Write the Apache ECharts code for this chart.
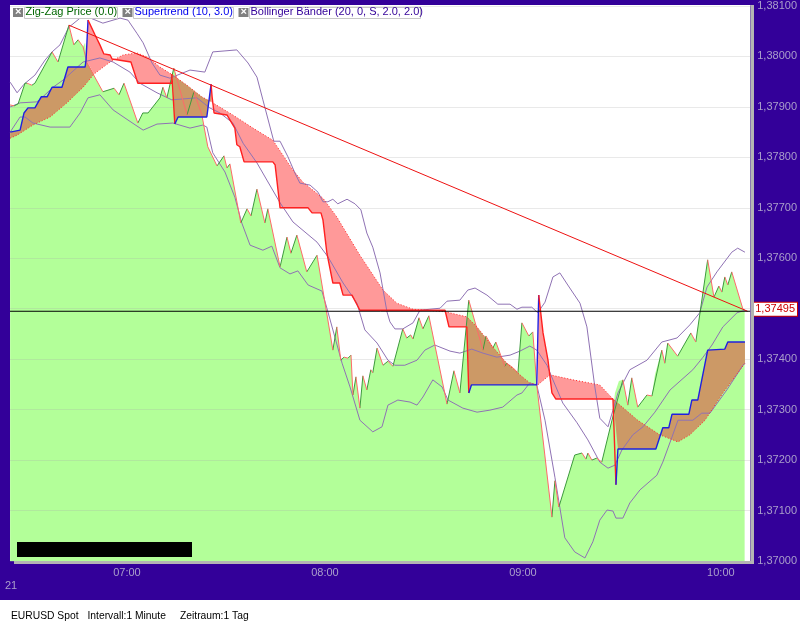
<!DOCTYPE html>
<html><head><meta charset="utf-8">
<style>html,body{margin:0;padding:0;background:#fff}#c{width:800px;height:625px}</style>
<script src="https://cdn.jsdelivr.net/npm/echarts@6/dist/echarts.min.js"></script>
</head><body><div id="c"></div>
<script>
// x values are minutes after 06:00, y values are EURUSD quotes
const timeTicks = [60, 120, 180, 240];
const priceTicks = [1.37, 1.371, 1.372, 1.373, 1.374, 1.375, 1.376, 1.377, 1.378, 1.379, 1.38, 1.381];
const lastQuote = 1.37495;

const price = [[24.6,1.37904],[25.8,1.37902],[27,1.37906],[29.1,1.37947],[29.7,1.37947],[31.2,1.37943],[32.1,1.37947],[37.3,1.38009],[39.1,1.37989],[42.4,1.38062],[43.9,1.38023],[45.2,1.38033],[46.7,1.38019],[47.9,1.37987],[52.7,1.3793],[56.1,1.37937],[57.6,1.37924],[59.1,1.37947],[63.3,1.37868],[64.8,1.37888],[66.4,1.37888],[70,1.37918],[70.9,1.37939],[72.1,1.37918],[74.2,1.37977],[78.2,1.37884],[80.3,1.3793],[82.7,1.37884],[84.5,1.37821],[87.3,1.37783],[89.4,1.37803],[90.3,1.37779],[91.2,1.37787],[94.5,1.3767],[96.4,1.37698],[97.6,1.37684],[99.4,1.37737],[101.8,1.3767],[102.7,1.37698],[106.4,1.37583],[108.5,1.37642],[109.7,1.3761],[111.5,1.37646],[114.5,1.37573],[117.6,1.37606],[120.3,1.37501],[122.4,1.37418],[123.6,1.37464],[124.8,1.37398],[125.8,1.37404],[127,1.37402],[127.9,1.37408],[128.5,1.37329],[129.4,1.37365],[130.6,1.37303],[131.5,1.37367],[132.7,1.37339],[133.9,1.37379],[134.5,1.37373],[135.8,1.37422],[137.6,1.37388],[139.1,1.37396],[140.6,1.37386],[143.6,1.3746],[144.8,1.37442],[146,1.37448],[146.7,1.3744],[148.5,1.37482],[149.7,1.3746],[151.5,1.37486],[157,1.37311],[159.1,1.37377],[160.9,1.37333],[163.6,1.37517],[167.9,1.37418],[168.8,1.37446],[170.9,1.37422],[171.8,1.37434],[174.5,1.37386],[175.1,1.37392],[177,1.37383],[178.5,1.37373],[179.7,1.37472],[181.8,1.37446],[183,1.37454],[184.2,1.37349],[188.8,1.37087],[189.7,1.37159],[190.9,1.37107],[195.7,1.3721],[197.9,1.37214],[199.1,1.37202],[199.7,1.37214],[200.9,1.372],[202.4,1.37204],[203.9,1.37196],[207,1.37279],[210.3,1.37359],[211.8,1.37309],[213,1.37363],[214.8,1.37305],[217.6,1.37329],[219.1,1.37327],[222.1,1.37418],[223,1.37392],[223.9,1.37432],[226.9,1.37406],[230.9,1.37452],[232.4,1.37434],[236,1.37597],[237.9,1.37523],[239.4,1.37545],[240.3,1.37533],[241.2,1.37563],[242.1,1.37547],[243.3,1.37573],[246.6,1.37501],[247.2,1.37497]];
const fillExtras = [[47.3,1.38027],[47.7,1.37997],[207.9,1.37333],[209.1,1.37357],[220,1.37369]];

const bandUpper = [[24.6,1.37949],[26.7,1.37928],[28.8,1.37945],[32.1,1.37963],[35.2,1.37993],[37.3,1.38009],[39.7,1.38023],[42.4,1.38058],[45.8,1.38076],[48.2,1.38078],[52.7,1.38066],[57.9,1.38076],[60.3,1.38072],[63,1.38046],[64.9,1.38027],[67.6,1.37987],[70,1.37963],[73,1.37957],[79.1,1.37973],[83.6,1.37969],[86,1.38009],[89.7,1.38011],[93.3,1.38013],[96.7,1.37987],[99.4,1.37959],[101.2,1.37914],[104.5,1.37832],[106.4,1.37832],[108.8,1.37801],[110.9,1.37769],[112.4,1.37749],[115.5,1.37745],[117.9,1.37731],[119.4,1.37712],[120.9,1.37712],[122.4,1.37717],[123.9,1.37708],[126.7,1.37717],[129.1,1.37708],[130.9,1.37696],[132.7,1.3765],[134.5,1.37622],[136.7,1.37571],[138.8,1.37494],[139.7,1.37474],[141.2,1.3746],[143.6,1.3746],[146.7,1.37472],[148.8,1.37497],[151.8,1.37499],[154.9,1.37501],[157,1.37515],[160.9,1.37517],[163.3,1.37537],[165.5,1.37541],[169.1,1.37527],[172.4,1.37509],[176.1,1.37509],[178.2,1.37499],[179.7,1.37503],[182.7,1.37503],[184.5,1.37492],[186.7,1.37513],[189.1,1.37563],[191.2,1.37571],[193.6,1.37547],[197.3,1.37511],[199.4,1.37464],[201.8,1.37345],[203.3,1.37283],[205.8,1.37266],[207.3,1.37299],[208.8,1.37333],[212.4,1.37379],[217.6,1.37398],[222.1,1.37434],[226.7,1.37442],[230.6,1.37468],[233.6,1.37492],[235.8,1.37543],[238.8,1.37573],[243.3,1.37612],[245.1,1.3762],[247.3,1.37612]];
const bandMiddle = [[24.6,1.379],[27.6,1.37908],[32.7,1.3791],[34.5,1.3792],[37.6,1.37939],[40.6,1.37953],[46.7,1.37989],[51.8,1.37997],[55.8,1.37989],[60.9,1.37969],[63.9,1.37947],[69.1,1.37928],[73.6,1.37914],[81.2,1.37918],[85.1,1.37898],[88.2,1.37888],[92.1,1.37868],[95.2,1.37828],[99.4,1.37789],[102.4,1.37755],[106.4,1.3771],[110.3,1.37672],[117.6,1.37632],[120.9,1.37603],[125.5,1.37551],[129.7,1.37511],[132.1,1.37458],[135.8,1.37432],[139.1,1.37398],[141.2,1.37388],[144.2,1.37388],[147.9,1.37398],[150.3,1.37418],[153.3,1.37428],[157.9,1.37416],[160.9,1.37412],[164.5,1.3742],[167.9,1.37412],[172.1,1.37404],[176.1,1.37408],[179.1,1.37416],[182.1,1.37426],[184.2,1.37418],[187.3,1.37388],[189.1,1.37359],[192.1,1.37313],[196.4,1.37274],[199.7,1.3724],[203.3,1.37196],[205.8,1.37184],[207.9,1.3719],[210,1.3722],[213.3,1.3725],[216.4,1.37266],[220,1.37295],[224.6,1.37339],[231.5,1.37379],[234.6,1.37404],[237.3,1.37428],[240.6,1.37464],[244.9,1.37492],[247.3,1.37497]];
const bandLower = [[24.6,1.3785],[27.6,1.3788],[29.1,1.3788],[31.5,1.37868],[36.7,1.3786],[42.7,1.3786],[45.8,1.37888],[48.2,1.37918],[51.8,1.37924],[55.8,1.37894],[60.3,1.37874],[64.9,1.37854],[69.1,1.37866],[73.9,1.37868],[79.1,1.37858],[83,1.37864],[84.2,1.3786],[86,1.37809],[89.7,1.37771],[92.7,1.37721],[94.8,1.3767],[97.3,1.37626],[101.2,1.37616],[103.9,1.37624],[106.4,1.37581],[109.4,1.37569],[111.8,1.37575],[114.9,1.37547],[119.1,1.37535],[120.6,1.37501],[125.2,1.37392],[127.6,1.37345],[130.6,1.37279],[134.5,1.37256],[137.3,1.37266],[139.1,1.37309],[142.1,1.37319],[145.8,1.37315],[147.9,1.37309],[149.7,1.37325],[152.7,1.37359],[155.5,1.37345],[157.3,1.37319],[161.8,1.37303],[166.1,1.37295],[170,1.37299],[173.9,1.37305],[178.2,1.37329],[179.7,1.37333],[182.1,1.37353],[184.2,1.37349],[186.7,1.37279],[189.7,1.37166],[192.7,1.37046],[195.7,1.37018],[198.8,1.37006],[201.2,1.37038],[203.3,1.37081],[205.5,1.37101],[207.3,1.37099],[208.2,1.37085],[210.3,1.37085],[212.4,1.37115],[215.5,1.37141],[220.6,1.3717],[222.4,1.37196],[225.2,1.37246],[227,1.37279],[231.5,1.37279],[234.2,1.37293],[236.7,1.37293],[241.8,1.37339],[246.7,1.37388],[247.3,1.37392]];

const dottedLine = [[24.6,1.37838],[26.7,1.37844],[31.5,1.37864],[36.7,1.3788],[41.8,1.37908],[46.7,1.37939],[50,1.37965],[54.9,1.37989],[58.8,1.38003],[63,1.38007],[66.1,1.37999],[70,1.37979],[73.9,1.37963],[78.2,1.37943],[82.7,1.3792],[85.5,1.3791],[92.1,1.37884],[98.2,1.37858],[104.2,1.37834],[110.3,1.37775],[113.3,1.37751],[119.4,1.37719],[123.6,1.37682],[130.6,1.37606],[137.6,1.37537],[141.8,1.37511],[146.7,1.37499],[156.4,1.37494],[163,1.37484],[166.1,1.37464],[170.9,1.37424],[175.1,1.37392],[179.1,1.37369],[182.1,1.37353],[184.5,1.37349],[188.2,1.37369],[195.2,1.37359],[203.3,1.37349],[207.3,1.37321],[214.8,1.37279],[221.5,1.3725],[227,1.37236],[230.6,1.3725],[235.2,1.37279],[240.6,1.37333],[247.3,1.37392]];

const stepBlueA = [[24.6,1.3785],[27.6,1.37854],[28.8,1.37888],[30,1.37898],[32.1,1.37898],[34,1.3792],[35.8,1.3792],[37.3,1.37939],[40.3,1.37939],[42.1,1.37979],[47.3,1.37979],[47.6,1.37993],[48.2,1.38072]];
const stepRedA = [[48.2,1.38072],[50.3,1.38043],[51.8,1.38023],[53,1.38005],[54.9,1.38003],[55.5,1.37995],[61.2,1.37989],[63.3,1.37947],[73.6,1.37947],[73.6,1.37965],[74.5,1.37866]];
const stepBlueB = [[74.5,1.37866],[75.5,1.3788],[84.2,1.3788],[85.5,1.37945]];
const stepRedB = [[85.5,1.37945],[85.8,1.3792],[86.4,1.37888],[90.3,1.37884],[92.7,1.37858],[93.3,1.37825],[94.2,1.37821],[95.5,1.37791],[104.2,1.37791],[104.9,1.37785],[106.4,1.377],[114.9,1.377],[116.1,1.3769],[118.8,1.3769],[119.4,1.37676],[120.6,1.3761],[122.4,1.37551],[124.5,1.37551],[125.5,1.37527],[128.2,1.37527],[130.6,1.37497],[156.4,1.37497],[157.6,1.37464],[163,1.37464],[163.6,1.37333]];
const stepBlueC = [[163.6,1.37333],[164.4,1.37349],[184.2,1.37349],[184.8,1.37527]];
const stepRedC = [[184.8,1.37527],[186.1,1.37452],[187.6,1.37398],[188.8,1.37333],[190,1.37321],[207.3,1.37321],[208.2,1.37151]];
const stepBlueD = [[208.2,1.37151],[208.8,1.37222],[220.3,1.37222],[222.4,1.37264],[224.2,1.37264],[225.2,1.37291],[230.3,1.37291],[231.2,1.37319],[233,1.37319],[236,1.37418],[241.2,1.3742],[242.1,1.37434],[247.3,1.37434]];
const trendLine = [[42.4,1.38062],[248.1,1.37495]];

const legendLabels = ['Zig-Zag Price (0.0)', 'Supertrend (10, 3.0)', 'Bollinger Bänder (20, 0, S, 2.0, 2.0)'];
const footerTexts = ['EURUSD Spot', 'Intervall:1 Minute', 'Zeitraum:1 Tag'];
const dateMark = '21';

const C = {bg:'#330099', label:'#ab9fcb', fill:'#b3ff99', pink:'#ff9999', brown:'#cc9966', up:'#3d9a3d', down:'#ff6a6a', blue:'#2020e0', red:'#ff2020', band:'#8f72b4', dotted:'#ff2a2a'};
const FONT = '"Liberation Sans", Arial, sans-serif';
const X_MIN = 24.55, X_MAX = 248.9;

const chart = echarts.init(document.getElementById('c'), null, {renderer:'canvas', width:800, height:625});

function between(a, b) { return dottedLine.filter(p => p[0] >= a && p[0] <= b).reverse(); }
function polygon(points, fill) {
  return {
    type:'custom', coordinateSystem:'cartesian2d', silent:true, z:4, clip:true,
    data: points, encode:{x:0, y:1},
    renderItem(params, api) {
      if (params.dataIndex !== 0) return null;
      return {type:'polygon', shape:{points: points.map(p => api.coord(p))}, style:{fill, stroke:null}};
    }
  };
}
function line(data, color, width, extra) {
  return Object.assign({type:'line', data, showSymbol:false, symbol:'none', silent:true, z:6,
    lineStyle:{color, width}, connectNulls:false}, extra || {});
}
function directional(up) {
  const out = [];
  for (let i = 1; i < price.length; i++) {
    const a = price[i-1], b = price[i];
    if ((b[1] >= a[1]) === up) out.push(a, b, [b[0], null]);
  }
  return out;
}
const fillTop = price.concat(fillExtras).sort((a,b) => a[0]-b[0]);

const series = [
  {type:'line', data:fillTop, showSymbol:false, symbol:'none', silent:true, z:1, lineStyle:{width:0, opacity:0},
   areaStyle:{color:C.fill, opacity:1, origin:'start'}},
  polygon(stepBlueA.slice(0,-1).concat(between(0,50)), C.brown),
  polygon([stepBlueA[stepBlueA.length-2]].concat(stepRedA.slice(0,-1), between(50,73.9)), C.pink),
  polygon(stepBlueB.concat(between(73.9,85.5)), C.brown),
  polygon(stepRedB.slice(0,-1).concat(between(85.5,163)), C.pink),
  polygon(stepBlueC.slice(0,-1).concat(between(163,184.5)), C.brown),
  polygon(stepRedC.slice(0,-1).concat(between(184.5,207.3)), C.pink),
  polygon(stepBlueD.slice(1).concat(between(207.3,248)), C.brown),
  line(bandUpper, C.band, 1),
  line(bandMiddle, C.band, 1),
  line(bandLower, C.band, 1),
  line(directional(true), C.up, 1),
  line(directional(false), C.down, 1),
  line(dottedLine, C.dotted, 1, {lineStyle:{color:C.dotted, width:1, type:[1,2]}}),
  line(stepBlueA, C.blue, 1.4, {z:7}), line(stepRedA, C.red, 1.4, {z:7}),
  line(stepBlueB, C.blue, 1.4, {z:7}), line(stepRedB, C.red, 1.4, {z:7}),
  line(stepBlueC, C.blue, 1.4, {z:7}), line(stepRedC, C.red, 1.4, {z:7}),
  line(stepBlueD, C.blue, 1.4, {z:7}),
  line(trendLine, '#ee1111', 1, {z:8}),
  line([[X_MIN,lastQuote],[X_MAX,lastQuote]], '#000000', 1, {z:9, clip:false,
    endLabel:{show:true, formatter:() => lastQuote.toFixed(5).replace('.',','), color:'#cc0000', fontFamily:FONT, fontSize:11,
      backgroundColor:'#ffffff', borderColor:'#cc0000', borderWidth:1, padding:[1,2,1,2], distance:3, offset:[0,-2]}})
];

const graphic = [
  {type:'rect', shape:{x:10,y:5,width:740.5,height:1}, style:{fill:'#fff'}, z:1},
  {type:'rect', shape:{x:750.5,y:5,width:3.5,height:559}, style:{fill:'#b4b4b4'}, z:20},
  {type:'rect', shape:{x:14,y:561,width:740,height:3}, style:{fill:'#b4b4b4'}, z:20},
  {type:'rect', shape:{x:17,y:542,width:175,height:15}, style:{fill:'#000'}, z:20},
  {type:'rect', shape:{x:0,y:600,width:800,height:25}, style:{fill:'#fff'}, z:20},
  {type:'text', style:{x:5,y:580,text:dateMark,fill:C.label,font:'11px '+FONT}, z:20},
  {type:'text', style:{x:11,y:611,text:footerTexts[0],fill:'#000',font:'10.3px '+FONT}, z:21},
  {type:'text', style:{x:87.5,y:611,text:footerTexts[1],fill:'#000',font:'10.3px '+FONT}, z:21},
  {type:'text', style:{x:180,y:611,text:footerTexts[2],fill:'#000',font:'10.3px '+FONT}, z:21}
];
[[13,24,93,'#006600'],[122.5,133,100,'#0000ee'],[238.5,249,171,'#330099']].forEach((b,i) => {
  graphic.push(
    {type:'rect', shape:{x:b[0],y:8,width:10,height:9}, style:{fill:'#808080'}, z:22},
    {type:'text', style:{x:b[0]+2,y:6.5,text:'×',fill:'#fff',font:'bold 11px '+FONT}, z:23},
    {type:'rect', shape:{x:b[1]+.5,y:7.5,width:b[2],height:11}, style:{fill:'#fff',stroke:'#c8c8c8',lineWidth:1}, z:22},
    {type:'text', style:{x:b[1]+1.5,y:6.5,text:legendLabels[i],fill:b[3],font:'11px '+FONT}, z:23}
  );
});

chart.setOption({
  animation:false,
  backgroundColor:C.bg,
  grid:{left:10, right:49.5, top:6, bottom:64, show:true, backgroundColor:'#fff', borderWidth:0},
  xAxis:{type:'value', min:X_MIN, max:X_MAX, splitLine:{show:false}, axisLine:{show:false}, axisTick:{show:false},
    axisLabel:{customValues:timeTicks, margin:6, color:C.label, fontFamily:FONT, fontSize:11,
      formatter:v => String(6+Math.floor(v/60)).padStart(2,'0')+':'+String(Math.round(v%60)).padStart(2,'0')}},
  yAxis:{type:'value', position:'right', min:1.37, max:1.381, interval:0.001, z:2,
    axisLine:{show:false}, axisTick:{show:false},
    splitLine:{show:true, lineStyle:{color:'rgba(170,170,170,0.26)', width:1}},
    axisLabel:{margin:7, color:C.label, fontFamily:FONT, fontSize:11, formatter:v => v.toFixed(5).replace('.',',')}},
  series, graphic
});
</script></body></html>
